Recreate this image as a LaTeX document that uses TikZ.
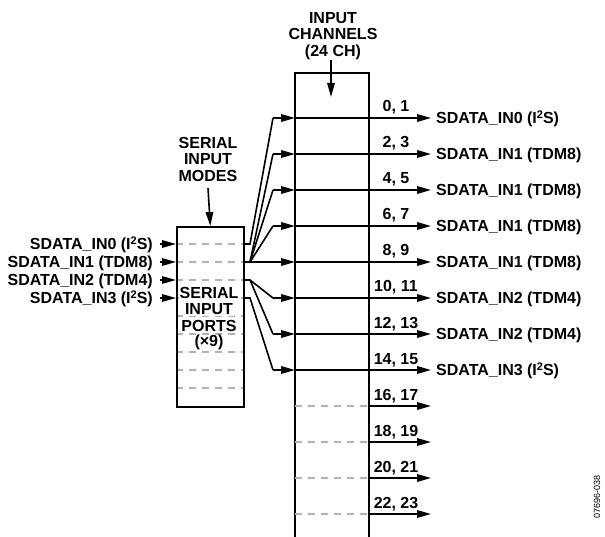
\documentclass[tikz,border=0pt]{standalone}
\usepackage{fontspec}
\setmainfont{Liberation Sans}
\usetikzlibrary{arrows.meta}
\newcommand\myts{\raisebox{0.33em}{\fontsize{11}{11}\selectfont 2}}
\begin{document}
\begin{tikzpicture}[x=1pt,y=-1pt]
\tikzset{
  ln/.style={line width=1.6pt, black},
  arr/.style={ln, -{Triangle[length=14pt,width=7.5pt]}},
  gdash/.style={line width=1.5pt, black!30, dash pattern=on 7pt off 6pt},
  lbl/.style={font=\fontsize{16}{16.5}\selectfont\bfseries, inner sep=0pt},
}
\useasboundingbox (0,0) rectangle (605,537);
% input channel coordinates
\foreach \i in {0,...,11}{
  \coordinate (cin\i) at (273,{118+36*\i});
  \coordinate (cl\i) at (295,{118+36*\i});
  \coordinate (cr\i) at (369,{118+36*\i});
  \coordinate (ct\i) at (431,{118+36*\i});
}
% serial port coordinates
\foreach \p in {0,...,3}{
  \coordinate (pl\p) at (160,{244+18*\p});
  \coordinate (pin\p) at (176,{244+18*\p});
  \coordinate (pr\p) at (243,{244+18*\p});
  \coordinate (pb\p) at (250,{244+18*\p});
}
% serial box dashed lines
\foreach \k in {0,...,8}{
  \coordinate (sdl\k) at (176,{244+18*\k});
  \coordinate (sdr\k) at (243,{244+18*\k});
  \draw[gdash] (sdl\k) -- (sdr\k);
}
\node[draw, ln, rectangle, minimum width=67pt, minimum height=180pt, anchor=north west, inner sep=0pt] (sp) at (176,226) {};
% serial ports text
\node[lbl, fill=white, inner sep=0.5pt] (spt1) at (209,293) {SERIAL};
\node[lbl, fill=white, inner sep=0.5pt] (spt2) at (209,309.5) {INPUT};
\node[lbl, fill=white, inner sep=0.5pt] (spt3) at (209,326) {PORTS};
\node[lbl, fill=white, inner sep=0.5pt] (spt4) at (209,342.5) {(×9)};
% input channel box
\coordinate (bl) at (295,537);
\coordinate (tl) at (295,73);
\coordinate (tr) at (369,73);
\coordinate (br) at (369,537);
\draw[ln] (bl) -- (tl) -- (tr) -- (br);
% top labels
\node[lbl, align=center, anchor=north] (ich) at (333,12) {INPUT\\CHANNELS\\(24 CH)};
\coordinate (icha) at (331,60);
\coordinate (ichb) at (331,97);
\draw[arr] (icha) -- (ichb);
\node[lbl, align=center, anchor=north] (sim) at (208,137) {SERIAL\\INPUT\\MODES};
\coordinate (sima) at (208,188);
\draw[arr] (sima) -- (sp.north);
% left inputs
\node[lbl, anchor=east] (in0) at (153,245) {SDATA\_IN0 (I\myts S)};
\node[lbl, anchor=east] (in1) at (153,263) {SDATA\_IN1 (TDM8)};
\node[lbl, anchor=east] (in2) at (153,281) {SDATA\_IN2 (TDM4)};
\node[lbl, anchor=east] (in3) at (153,299) {SDATA\_IN3 (I\myts S)};
\foreach \p in {0,...,3}{ \draw[arr] (pl\p) -- (pin\p); }
% fan-out
\draw[ln] (pr0) -- (pb0) -- (cin0);
\draw[ln] (pr1) -- (pb1) -- (cin1);
\draw[ln] (pb1) -- (cin2);
\draw[ln] (pb1) -- (cin3);
\draw[ln] (pb1) -- (cin4);
\draw[ln] (pr2) -- (pb2) -- (cin5);
\draw[ln] (pb2) -- (cin6);
\draw[ln] (pr3) -- (pb3) -- (cin7);
% channel arrows
\foreach \i in {0,...,7}{
  \draw[arr] (cin\i) -- (cl\i);
  \draw[arr] (cl\i) -- (ct\i);
}
\foreach \i in {8,...,11}{
  \draw[gdash] (cl\i) -- (cr\i);
  \draw[arr] (cr\i) -- (ct\i);
}
% channel numbers
\foreach \i/\t in {0/{0, 1},1/{2, 3},2/{4, 5},3/{6, 7},4/{8, 9},5/{10, 11},6/{12, 13},7/{14, 15},8/{16, 17},9/{18, 19},10/{20, 21},11/{22, 23}}{
  \node[lbl, anchor=base] (cn\i) at (396,{112+36*\i}) {\t};
}
% right labels
\node[lbl, anchor=west] (out0) at (436,119) {SDATA\_IN0 (I\myts S)};
\node[lbl, anchor=west] (out1) at (436,155) {SDATA\_IN1 (TDM8)};
\node[lbl, anchor=west] (out2) at (436,191) {SDATA\_IN1 (TDM8)};
\node[lbl, anchor=west] (out3) at (436,227) {SDATA\_IN1 (TDM8)};
\node[lbl, anchor=west] (out4) at (436,263) {SDATA\_IN1 (TDM8)};
\node[lbl, anchor=west] (out5) at (436,299) {SDATA\_IN2 (TDM4)};
\node[lbl, anchor=west] (out6) at (436,335) {SDATA\_IN2 (TDM4)};
\node[lbl, anchor=west] (out7) at (436,371) {SDATA\_IN3 (I\myts S)};
% figure id
\node[rotate=90, font=\fontsize{9}{10}\selectfont, inner sep=0pt] (fid) at (597,497) {07696-038};
\end{tikzpicture}
\end{document}
